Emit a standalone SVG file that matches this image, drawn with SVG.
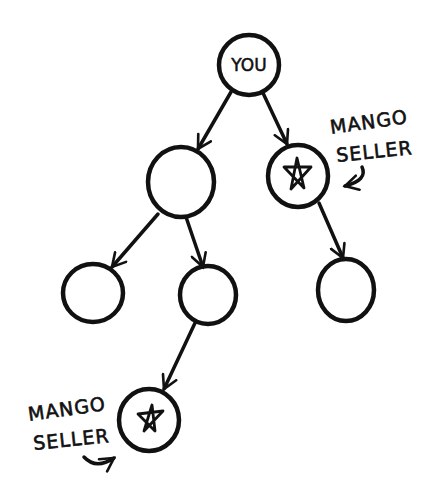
<svg xmlns="http://www.w3.org/2000/svg" width="438" height="489" viewBox="0 0 438 489">
<style>
.node{fill:none;stroke:#111;stroke-width:4.5}
.edge{fill:none;stroke:#111;stroke-width:3.5;stroke-linecap:round}
.star{fill:none;stroke:#111;stroke-width:2.8;stroke-linejoin:round}
.lbl{font-family:"DejaVu Sans","Liberation Sans",sans-serif;font-size:19px;fill:#111;stroke:#111;stroke-width:0.6;letter-spacing:1px}
.you{font-family:"DejaVu Sans","Liberation Sans",sans-serif;font-size:17px;fill:#111;stroke:#111;stroke-width:0.5}
</style>
<defs>
<marker id="ah" viewBox="0 0 12 12" refX="10" refY="6" markerWidth="5" markerHeight="5" orient="auto" markerUnits="strokeWidth">
<path d="M1,1 L10,6 L1,11" fill="none" stroke="#111" stroke-width="1.8" stroke-linecap="round"/>
</marker>
</defs>
<g id="connectors">
<path class="edge" d="M231,92 L198,149" marker-end="url(#ah)"/>
<path class="edge" d="M263,93 L287,144" marker-end="url(#ah)"/>
<path class="edge" d="M158,214 L112,267" marker-end="url(#ah)"/>
<path class="edge" d="M186,217 L203,267" marker-end="url(#ah)"/>
<path class="edge" d="M319,203 L343,258" marker-end="url(#ah)"/>
<path class="edge" d="M195,323 L164,389" marker-end="url(#ah)"/>
<path class="edge" d="M362,167 Q368,180 345,186" marker-end="url(#ah)"/>
<path class="edge" d="M84,457 Q96,470 114,458" marker-end="url(#ah)"/>
</g>
<g id="you">
<ellipse class="node" cx="249" cy="65" rx="30" ry="30"/>
<text class="you" x="249" y="71" text-anchor="middle">YOU</text>
</g>
<g id="mango1">
<ellipse class="node" cx="298" cy="176" rx="30" ry="31"/>
<path class="star" d="M297,158 L304,188 L284,167 L311,167 L291,189 Z"/>
</g>
<g id="n2">
<ellipse class="node" cx="181" cy="182" rx="33" ry="35"/>
</g>
<g id="n3">
<ellipse class="node" cx="93" cy="293" rx="30" ry="29"/>
</g>
<g id="n4">
<ellipse class="node" cx="208" cy="295" rx="28" ry="29"/>
</g>
<g id="n5">
<ellipse class="node" cx="346" cy="290" rx="28" ry="31"/>
</g>
<g id="mango2">
<ellipse class="node" cx="149" cy="420" rx="30" ry="31"/>
<path class="star" d="M152,405 L155,431 L138,414 L163,411 L144,431 Z"/>
</g>
<g id="labels">
<text class="lbl" x="331" y="134" transform="rotate(-8 331 134)">MANGO</text>
<text class="lbl" x="337" y="162" transform="rotate(-6 337 162)">SELLER</text>
<text class="lbl" x="29" y="421" transform="rotate(-8 29 421)">MANGO</text>
<text class="lbl" x="34" y="450" transform="rotate(-6 34 450)">SELLER</text>
</g>
</svg>
